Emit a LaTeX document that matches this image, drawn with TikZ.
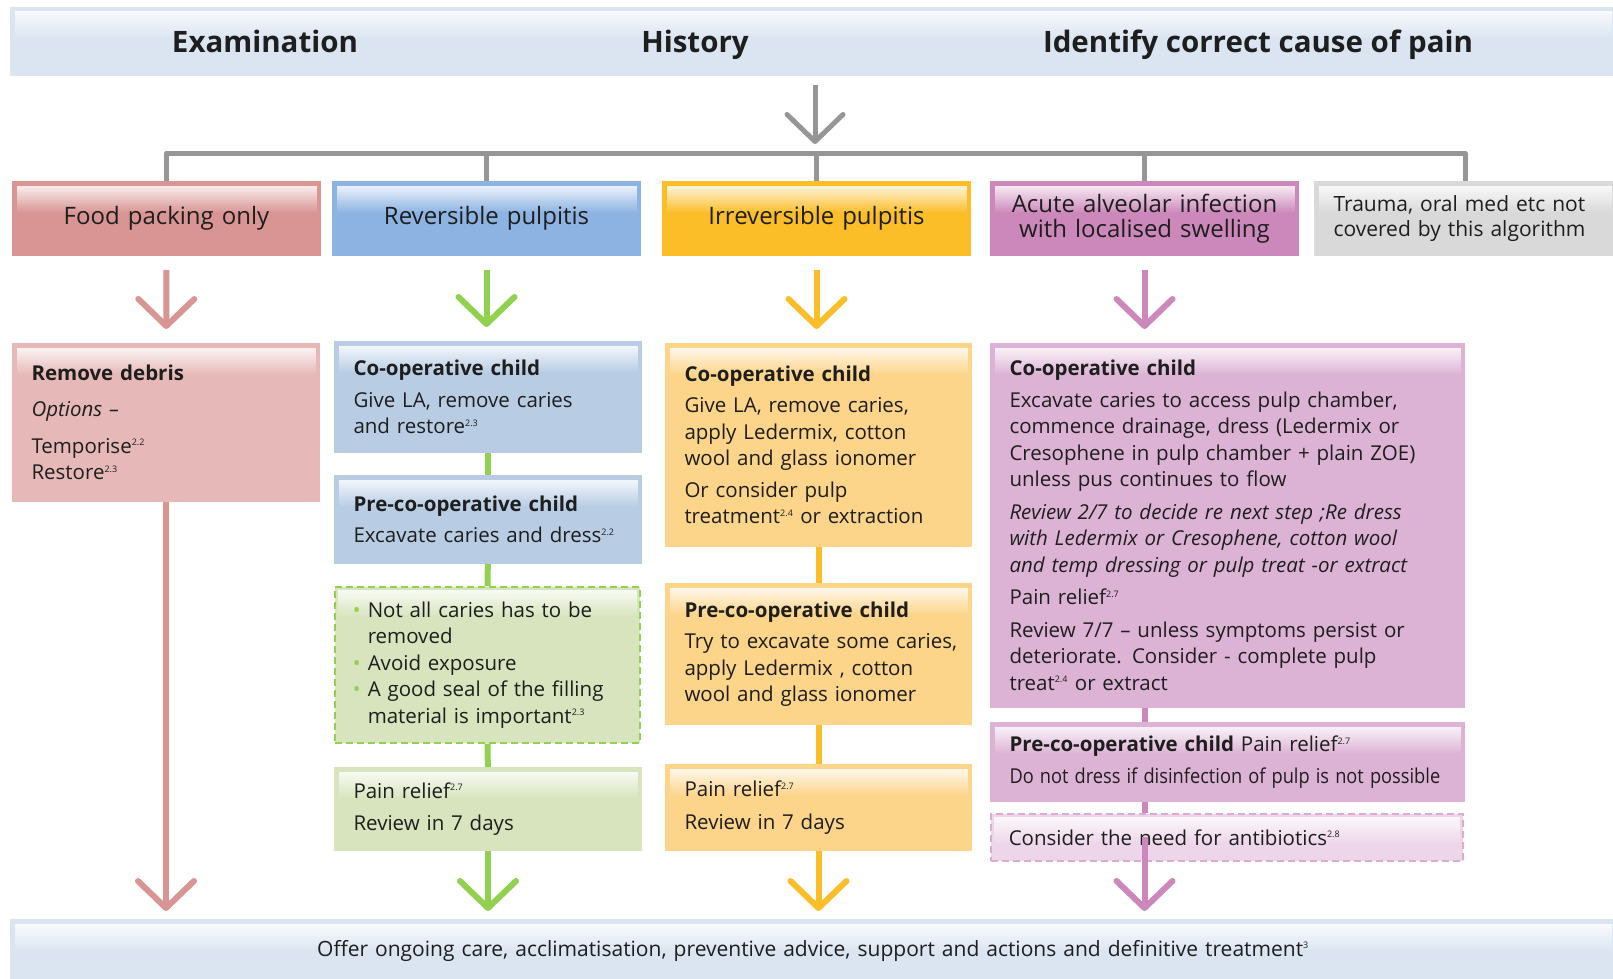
\documentclass[tikz,border=0pt]{standalone}
\usepackage{fontspec}
\usepackage{graphicx}
\setmainfont{Open Sans}
\usetikzlibrary{arrows.meta,positioning}

\definecolor{pinkhead}{RGB}{217,149,148}
\definecolor{pinkbox}{RGB}{230,185,184}
\definecolor{bluehead}{RGB}{141,179,226}
\definecolor{bluebox}{RGB}{184,204,228}
\definecolor{goldhead}{RGB}{251,190,40}
\definecolor{goldbox}{RGB}{252,212,138}
\definecolor{plumhead}{RGB}{204,136,187}
\definecolor{plumbox}{RGB}{221,179,213}
\definecolor{plumpale}{RGB}{237,214,233}
\definecolor{greenline}{RGB}{146,208,80}
\definecolor{greenbox}{RGB}{215,228,189}
\definecolor{greyhead}{RGB}{217,217,217}
\definecolor{greyline}{RGB}{150,150,150}
\definecolor{bandblue}{RGB}{219,229,241}
\definecolor{ink}{RGB}{30,30,30}

\newcommand{\fn}[1]{\textsuperscript{\fontsize{9}{9}\selectfont #1}}
\newcommand{\bul}{\makebox[15pt][l]{\textcolor{greenline}{\textbullet}}}
\newcommand{\bodyfont}{\fontsize{20.5}{26.5}\selectfont}

\begin{document}
\begin{tikzpicture}[x=1pt, y=-1pt,
            card/.style={anchor=north west, fill=#1, draw=#1, line width=3pt,
               inner xsep=18pt, inner ysep=4pt, font=\bodyfont, text=ink, align=left,
               path picture={\foreach \i in {0,...,13}{
                  \pgfmathtruncatemacro\shadeamt{20+\i*80/13}
                  \fill[#1!\shadeamt!white]
                     ([xshift=3pt, yshift=-(3+2*\i)*1pt]path picture bounding box.north west) rectangle
                     ([xshift=-3pt, yshift=-(5.5+2*\i)*1pt]path picture bounding box.north east);}}},
            type/.style={card=#1, minimum height=72pt, text width=270pt, align=center,
               font=\fontsize{24}{25.5}\selectfont},
            tip note/.style n args={2}{card=#1, draw=#2, line width=1.5pt, dash pattern=on 7pt off 4pt},
            title/.style={anchor=base, font=\bfseries\fontsize{29.5}{31}\selectfont, text=ink},
            flow/.style={#1, line width=6pt, -{Straight Barb[length=27pt, width=56pt, round]}},
            link/.style={#1, line width=6pt},
            bar/.style={greyline, line width=5pt, line join=round}
         ]
      \useasboundingbox (0,0) rectangle (1613,979);

      % top band
      \node[card=bandblue, minimum width=1603pt, minimum height=66pt, inner sep=0pt] (head) at (10,7) {};
      \node[title] (exam) at (265,53) {Examination};
      \node[title] (hist) at (695,53) {History};
      \node[title] (cause) at (1258,53) {Identify correct cause of pain};
      \coordinate (hub) at (815,153);

      % causes
      \node[type=pinkhead] (food) at (12,181) {\raisebox{-4pt}{Food packing only}};
      \node[type=bluehead] (rever) at (332,181) {Reversible pulpitis};
      \node[type=goldhead] (irrev) at (662,181) {Irreversible pulpitis};
      \node[type=plumhead] (acute) at (990,181) {Acute alveolar infection\\with localised swelling};
      \node[type=greyhead, text width=263pt, align=left, font=\fontsize{21}{24.5}\selectfont] (trauma) at (1314,181)
         {Trauma, oral med etc not\\covered by this algorithm};

      % food packing
      \node[card=pinkbox, text width=269pt, minimum height=156pt] (debris) at (12,343)
         {\textbf{Remove debris}\\[10pt] \textit{Options –}\\[10pt] Temporise\fn{2.2}\\ Restore\fn{2.3}};

      % reversible pulpitis
      \node[card=bluebox, text width=269pt, minimum height=109pt] (coop2) at (334,341)
         {\textbf{Co-operative child}\\[5pt] Give LA, remove caries\\ and restore\fn{2.3}};
      \node[card=bluebox, text width=269pt, minimum height=86pt] (pre2) at (334,475)
         {\textbf{Pre-co-operative child}\\[5pt] \mbox{Excavate caries and dress\fn{2.2}}};
      \node[tip note={greenbox}{greenline}, text width=269pt, minimum height=156pt] (tips2) at (334,586)
         {\bul Not all caries has to be\\ \hspace*{15pt}removed\\ \bul Avoid exposure\\
          \bul A good seal of the filling\\ \hspace*{15pt}material is important\fn{2.3}};
      \node[card=greenbox, text width=269pt, minimum height=81pt] (pain2) at (334,767)
         {Pain relief\fn{2.7}\\[6pt] Review in 7 days};

      % irreversible pulpitis
      \node[card=goldbox, text width=268pt, minimum height=201pt] (coop3) at (665,343)
         {\textbf{Co-operative child}\\[5pt] Give LA, remove caries,\\ apply Ledermix, cotton\\
          wool and glass ionomer\\[5pt] Or consider pulp\\ \mbox{treatment\fn{2.4} or extraction}};
      \node[card=goldbox, text width=268pt, minimum height=139pt] (pre3) at (665,583)
         {\textbf{Pre-co-operative child}\\[5pt] \mbox{Try to excavate some caries,}\\ apply Ledermix , cotton\\
          wool and glass ionomer};
      \node[card=goldbox, text width=268pt, minimum height=84pt] (pain3) at (665,764)
         {Pain relief\fn{2.7}\\[6pt] Review in 7 days};

      % acute alveolar infection
      \node[card=plumbox, text width=436pt, minimum height=362pt] (coop4) at (990,343)
         {\textbf{Co-operative child}\\[5pt] Excavate caries to access pulp chamber,\\
          commence drainage, dress (Ledermix or\\ Cresophene in pulp chamber + plain ZOE)\\
          unless pus continues to flow\\[6pt]
          \textit{Review 2/7 to decide re next step ;Re dress}\\
          \textit{with Ledermix or Cresophene, cotton wool}\\
          \textit{and temp dressing or pulp treat -or extract}\\[6pt]
          Pain relief\fn{2.7}\\[6pt] Review 7/7 – unless symptoms persist or\\
          deteriorate. Consider - complete pulp\\ treat\fn{2.4} or extract};
      \node[card=plumbox, text width=436pt, minimum height=77pt] (pre4) at (990,722)
         {\textbf{Pre-co-operative child} Pain relief\fn{2.7}\\[5pt]
          \scalebox{0.89}[1]{Do not dress if disinfection of pulp is not possible}};
      \node[tip note={plumpale}{plumhead!70}, text width=436pt, minimum height=47pt] (anti) at (990,813)
         {Consider the need for antibiotics\fn{2.8}};

      % bottom band
      \node[card=bandblue, text width=1567pt, minimum height=60pt, align=center, font=\fontsize{21}{26}\selectfont] (foot) at (10,919)
         {Offer ongoing care, acclimatisation, preventive advice, support and actions and definitive treatment\fn{3}};

      % grey split
      \draw[flow=greyline, line width=5pt, shorten <=9pt, shorten >=9pt] (head.south -| hub) -- (hub);
      \draw[bar] (food.north) |- (trauma.north |- hub) -- (trauma.north);
      \foreach \n in {rever,irrev,acute}
         \draw[bar] (\n.north) -- (\n.north |- hub);

      % into the columns
      \draw[flow=pinkhead, shorten <=14pt, shorten >=14pt] (food) -- (debris);
      \draw[flow=greenline, shorten <=14pt, shorten >=14pt] (rever.south) -- (rever.south |- coop2.north);
      \draw[flow=goldhead, shorten <=14pt, shorten >=14pt] (irrev.south) -- (irrev.south |- coop3.north);
      \draw[flow=plumhead, shorten <=14pt, shorten >=14pt] (acute.south) -- (acute.south |- coop4.north);

      % down the columns
      \draw[link=greenline] (coop2) -- (pre2);
      \draw[link=greenline] (pre2) -- (tips2);
      \draw[link=greenline] (tips2) -- (pain2);
      \draw[link=goldhead] (coop3) -- (pre3);
      \draw[link=goldhead] (pre3) -- (pain3);
      \draw[link=plumhead] (coop4.south -| acute) -- (pre4.north -| acute);
      \draw[link=plumhead] (pre4.south -| acute) -- (anti.north -| acute);

      % out to the band
      \draw[flow=pinkhead, shorten >=8pt] (debris) -- (debris |- foot.north);
      \draw[flow=greenline, shorten >=8pt] (pain2) -- (pain2 |- foot.north);
      \draw[flow=goldhead, shorten >=8pt] (pain3) -- (pain3 |- foot.north);
      \draw[flow=plumhead, shorten >=8pt] (anti -| acute) -- (acute |- foot.north);

\end{tikzpicture}
\end{document}
